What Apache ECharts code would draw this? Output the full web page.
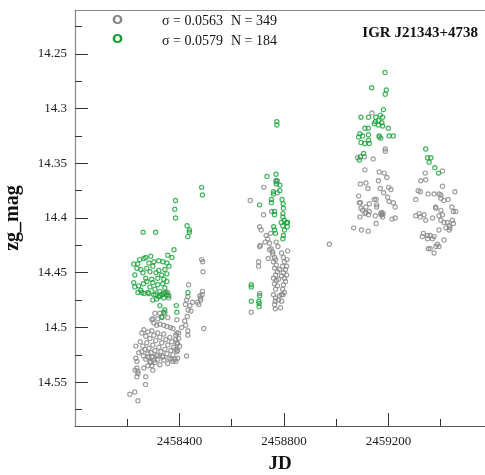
<!DOCTYPE html>
<html>
<head>
<meta charset="utf-8">
<script src="https://cdn.jsdelivr.net/npm/echarts@6/dist/echarts.min.js"></script>
<style>
  html, body { margin: 0; padding: 0; background: #fff; }
  #chart { width: 485px; height: 475px; }
</style>
</head>
<body>
<div id="chart"></div>
<script>
// light curve of IGR J21343+4738, points are [JD, zg mag]
const graySeason1 = [
  [2458485,14.438],[2458489,14.440],[2458490,14.449],[2458435,14.461],[2458488,14.467],[2458432,14.472],[2458481,14.473],
  [2458359,14.473],[2458355,14.468],[2458423,14.479],[2458433,14.484],[2458427,14.475],[2458470,14.477],[2458481,14.475],
  [2458487,14.470],[2458474,14.479],[2458493,14.501],[2458478,14.471],[2458430,14.490],
  [2458306,14.487],[2458325,14.487],[2458298,14.492],[2458317,14.492],[2458332,14.490],[2458344,14.487],[2458355,14.491],
  [2458390,14.493],[2458424,14.498],[2458294,14.493],[2458302,14.496],[2458313,14.498],
  [2458325,14.497],[2458340,14.498],[2458352,14.499],[2458365,14.500],[2458375,14.501],[2458390,14.505],[2458397,14.505],
  [2458432,14.503],[2458432,14.507],
  [2458256,14.505],[2458264,14.502],[2458271,14.508],[2458279,14.504],[2458287,14.510],[2458294,14.503],[2458302,14.507],
  [2458309,14.512],[2458317,14.505],[2458325,14.509],[2458332,14.514],[2458340,14.506],[2458348,14.511],[2458355,14.516],
  [2458363,14.509],[2458371,14.513],[2458378,14.518],[2458386,14.511],[2458393,14.515],
  [2458250,14.513],[2458260,14.517],[2458268,14.520],[2458275,14.514],[2458283,14.519],[2458291,14.523],[2458298,14.516],
  [2458306,14.521],[2458313,14.525],[2458321,14.518],[2458329,14.522],[2458336,14.527],[2458344,14.520],[2458352,14.524],
  [2458360,14.528],[2458367,14.521],[2458375,14.525],[2458383,14.529],[2458390,14.522],
  [2458262,14.526],[2458271,14.529],[2458279,14.524],[2458287,14.531],[2458298,14.527],[2458306,14.532],[2458317,14.529],
  [2458325,14.534],[2458340,14.530],[2458355,14.533],[2458375,14.531],[2458386,14.520],[2458393,14.528],
  [2458233,14.517],[2458244,14.523],[2458256,14.522],[2458233,14.528],[2458237,14.531],[2458279,14.527],[2458294,14.527],
  [2458317,14.526],[2458336,14.526],[2458367,14.529],[2458386,14.531],[2458427,14.526],
  [2458237,14.537],[2458241,14.540],[2458230,14.539],[2458264,14.537],[2458279,14.535],[2458294,14.535],[2458302,14.530],
  [2458290,14.532],[2458298,14.539],[2458241,14.542],[2458237,14.545],[2458271,14.545],[2458270,14.552],
  [2458210,14.561],[2458229,14.559],[2458241,14.567],
  [2458386,14.507],[2458397,14.510],[2458390,14.514],[2458401,14.517],[2458393,14.521],[2458440,14.480],[2458444,14.485],
  [2458450,14.477],[2458408,14.500],[2458420,14.494]
];
const graySeason2 = [
  [2458723,14.372],[2458671,14.384],[2458722,14.397],[2458753,14.394],[2458775,14.366],[2458775,14.377],[2458770,14.367],
  [2458707,14.408],[2458713,14.411],[2458707,14.426],[2458732,14.416],[2458738,14.419],[2458728,14.422],[2458749,14.414],
  [2458745,14.423],[2458770,14.422],[2458777,14.426],[2458751,14.428],[2458757,14.431],
  [2458757,14.433],[2458764,14.436],[2458760,14.440],[2458768,14.438],[2458771,14.443],[2458764,14.446],[2458775,14.449],
  [2458768,14.452],[2458760,14.455],[2458771,14.457],[2458764,14.460],[2458775,14.462],[2458768,14.465],[2458779,14.456],
  [2458783,14.447],
  [2458791,14.432],[2458798,14.436],[2458802,14.440],[2458795,14.444],[2458806,14.447],[2458798,14.450],[2458791,14.453],
  [2458802,14.455],[2458810,14.452],[2458806,14.458],[2458798,14.461],[2458810,14.444],[2458812,14.438],[2458814,14.430],
  [2458795,14.465],[2458802,14.468],[2458791,14.470],[2458783,14.471],
  [2458760,14.470],[2458768,14.473],[2458779,14.475],[2458791,14.476],[2458764,14.479],[2458787,14.482],[2458796,14.470],
  [2458703,14.440],[2458703,14.444],[2458745,14.429],[2458740,14.437],[2458710,14.425],
  [2458707,14.469],[2458767,14.476],[2458767,14.483],[2458675,14.486]
];
const graySeason3 = [
  [2458974,14.424],
  [2459137,14.304],[2459165,14.326],[2459188,14.337],[2459188,14.339],
  [2459082,14.345],[2459108,14.344],[2459142,14.346],
  [2459110,14.356],[2459165,14.358],[2459184,14.359],[2459194,14.363],[2459162,14.366],
  [2459093,14.369],[2459114,14.368],[2459122,14.373],
  [2459169,14.373],[2459182,14.377],[2459201,14.372],[2459210,14.374],
  [2459086,14.380],[2459093,14.386],[2459114,14.390],[2459127,14.387],[2459146,14.383],[2459155,14.388],[2459197,14.381],
  [2459203,14.385],[2459219,14.386],[2459226,14.390],
  [2459091,14.399],[2459114,14.395],[2459124,14.397],[2459127,14.394],[2459150,14.398],[2459171,14.396],[2459175,14.397],
  [2459178,14.399],[2459214,14.401],[2459226,14.400],
  [2459153,14.405],[2459067,14.409],[2459097,14.411],[2459123,14.412],
  [2459089,14.386],[2459095,14.391],[2459101,14.393],[2459110,14.396],[2459153,14.383],[2459155,14.390],[2459173,14.397],
  [2459175,14.395],[2459180,14.396]
];
const graySeason4 = [
  [2459407,14.357],[2459341,14.359],[2459343,14.365],[2459324,14.366],[2459407,14.371],[2459314,14.375],[2459322,14.376],
  [2459352,14.378],[2459375,14.378],[2459394,14.378],[2459401,14.379],[2459413,14.384],[2459429,14.383],[2459455,14.376],
  [2459305,14.383],[2459401,14.382],
  [2459381,14.390],[2459381,14.391],[2459443,14.390],[2459449,14.394],[2459458,14.394],[2459401,14.393],[2459407,14.397],
  [2459305,14.398],[2459318,14.396],[2459322,14.399],[2459337,14.397],[2459343,14.402],[2459369,14.400],[2459394,14.398],
  [2459401,14.402],[2459413,14.404],[2459426,14.404],[2459433,14.407],[2459445,14.402],[2459449,14.405],[2459420,14.409],
  [2459433,14.411],[2459436,14.409],[2459394,14.411],
  [2459334,14.414],[2459330,14.417],[2459350,14.416],[2459360,14.416],[2459350,14.419],[2459369,14.419],[2459375,14.417],
  [2459413,14.420],[2459388,14.424],[2459394,14.426],[2459382,14.426],[2459353,14.428],[2459360,14.428],[2459375,14.432]
];

const greenSeason1 = [
  [2458485,14.372],[2458488,14.379],[2458385,14.384],[2458382,14.392],[2458385,14.400],[2458429,14.407],[2458438,14.411],
  [2458438,14.413],[2458432,14.417],[2458261,14.413],[2458309,14.413],[2458379,14.429],
  [2458248,14.438],[2458264,14.437],[2458271,14.436],[2458290,14.435],[2458355,14.434],[2458371,14.436],[2458321,14.439],
  [2458240,14.442],[2458283,14.441],[2458302,14.440],[2458336,14.440],[2458352,14.441],
  [2458225,14.442],[2458237,14.446],[2458229,14.452],[2458252,14.447],[2458260,14.450],[2458275,14.446],[2458287,14.449],
  [2458298,14.444],[2458310,14.450],[2458321,14.448],[2458332,14.452],[2458344,14.447],[2458352,14.451],[2458360,14.444],
  [2458271,14.455],[2458294,14.456],[2458317,14.455],[2458340,14.456],
  [2458225,14.459],[2458229,14.463],[2458244,14.462],[2458252,14.466],[2458241,14.468],[2458262,14.460],[2458275,14.458],
  [2458287,14.463],[2458298,14.459],[2458306,14.465],[2458317,14.461],[2458325,14.467],[2458336,14.460],[2458344,14.464],
  [2458352,14.458],[2458283,14.469],[2458302,14.470],[2458321,14.472],[2458332,14.470],[2458313,14.474],[2458340,14.473],
  [2458348,14.468],[2458298,14.475],
  [2458256,14.468],[2458264,14.469],[2458279,14.468],[2458309,14.470],[2458325,14.471],[2458340,14.469],[2458352,14.470],
  [2458359,14.471],
  [2458325,14.480],[2458344,14.484],[2458340,14.486],[2458333,14.491],[2458388,14.480],[2458390,14.486],[2458432,14.468]
];
const greenSeason2 = [
  [2458773,14.312],[2458773,14.315],[2458770,14.360],[2458735,14.362],[2458770,14.366],[2458771,14.369],[2458785,14.370],
  [2458784,14.375],[2458760,14.376],[2458760,14.378],[2458752,14.383],[2458752,14.386],[2458707,14.388],[2458793,14.383],
  [2458797,14.387],[2458798,14.391],
  [2458764,14.394],[2458764,14.397],[2458796,14.396],[2458796,14.399],[2458802,14.402],[2458810,14.404],[2458814,14.404],
  [2458813,14.408],[2458796,14.407],[2458790,14.404],[2458761,14.408],[2458764,14.411],[2458768,14.414],[2458796,14.419],
  [2458802,14.411],[2458798,14.416],
  [2458675,14.461],[2458675,14.463],[2458675,14.476],[2458704,14.476],[2458707,14.471],[2458705,14.478],[2458705,14.481]
];
const greenSeason3 = [
  [2459187,14.267],[2459136,14.281],[2459192,14.283],[2459188,14.287],[2459181,14.301],
  [2459169,14.306],[2459178,14.308],[2459152,14.308],[2459124,14.308],[2459095,14.308],[2459150,14.312],[2459162,14.311],
  [2459175,14.313],[2459162,14.315],[2459178,14.316],[2459146,14.314],[2459200,14.318],
  [2459110,14.318],[2459123,14.318],[2459124,14.324],[2459091,14.323],[2459086,14.326],[2459101,14.325],[2459095,14.331],
  [2459110,14.332],[2459124,14.329],[2459127,14.332],
  [2459165,14.325],[2459171,14.327],[2459203,14.325],[2459219,14.325],
  [2459105,14.341],[2459089,14.347],[2459093,14.344]
];
const greenSeason4 = [
  [2459343,14.337],[2459350,14.345],[2459363,14.345],[2459356,14.349],[2459378,14.354],[2459392,14.359]
];

const xMajorTicks = [2458400, 2458800, 2459200];
const xMinorTicks = [2458200, 2458600, 2459000, 2459400];
const yMajorTicks = [14.25, 14.3, 14.35, 14.4, 14.45, 14.5, 14.55];
const yMinorTicks = [14.225, 14.275, 14.325, 14.375, 14.425, 14.475, 14.525, 14.575];

const legendStats = [
  { sigma: 'σ = 0.0563', n: 'N = 349' },
  { sigma: 'σ = 0.0579', n: 'N = 184' }
];

const GRAY = '#878787';
const GREEN = '#14a036';
const SERIF = '"Liberation Serif", serif';

const chart = echarts.init(document.getElementById('chart'));

const xRange = { min: 2458000, max: 2459570 };
const yRange = { min: 14.21, max: 14.59 };

function pointSeries(name, data, color) {
  return {
    name: name,
    type: 'scatter',
    data: data,
    symbol: 'circle',
    symbolSize: 4.2,
    itemStyle: {
      color: 'rgba(0,0,0,0)',
      borderColor: color,
      borderWidth: 1.2,
    },
    xAxisIndex: 0,
    yAxisIndex: 0,
  }
}

chart.setOption({
  animation: false,
  backgroundColor: '#fff',
  textStyle: { fontFamily: SERIF },
  title: {
    text: 'IGR J21343+4738',
    right: 2,
    top: 21,
    textStyle: { fontFamily: SERIF, fontWeight: 'bold', fontSize: 15, color: '#111' },
  },
  grid: { left: 75, right: 0, top: 10, bottom: 49, outerBoundsMode: 'none', containLabel: false },
  xAxis: [{
    type: 'value',
    position: 'bottom',
    min: xRange.min,
    max: xRange.max,
    name: 'JD',
    nameLocation: 'middle',
    nameGap: 29,
    nameTextStyle: { fontFamily: SERIF, fontWeight: 'bold', fontSize: 19, color: '#111' },
    splitLine: { show: false },
    axisLine: { lineStyle: { color: '#555', width: 1.2 } },
    axisTick: { inside: true, length: 13, customValues: xMajorTicks, lineStyle: { color: '#333' } },
    axisLabel: {
      customValues: xMajorTicks,
      margin: 9,
      fontFamily: SERIF,
      fontSize: 13,
      color: '#222',
      formatter: v => String(v),
    },
  }, {
    type: 'value',
    position: 'bottom',
    min: xRange.min,
    max: xRange.max,
    splitLine: { show: false },
    axisLine: { show: false },
    axisTick: { inside: true, length: 7, customValues: xMinorTicks, lineStyle: { color: '#333' } },
    axisLabel: { show: false },
  }, {
    type: 'value',
    position: 'top',
    min: xRange.min,
    max: xRange.max,
    splitLine: { show: false },
    axisLine: { lineStyle: { color: '#888', width: 1.2 } },
    axisTick: { show: false },
    axisLabel: { show: false },
  }],
  yAxis: [{
    type: 'value',
    position: 'left',
    inverse: true,
    min: yRange.min,
    max: yRange.max,
    name: 'zg_mag',
    nameLocation: 'middle',
    nameGap: 52,
    nameTextStyle: { fontFamily: SERIF, fontWeight: 'bold', fontSize: 20, color: '#111' },
    splitLine: { show: false },
    axisLine: { lineStyle: { color: '#888', width: 1.2 } },
    axisTick: { inside: true, length: 13, customValues: yMajorTicks, lineStyle: { color: '#333' } },
    axisLabel: {
      customValues: yMajorTicks,
      margin: 8,
      fontFamily: SERIF,
      fontSize: 13,
      color: '#222',
      formatter: v => String(+v.toFixed(3)),
    },
  }, {
    type: 'value',
    position: 'left',
    inverse: true,
    min: yRange.min,
    max: yRange.max,
    splitLine: { show: false },
    axisLine: { show: false },
    axisTick: { inside: true, length: 7, customValues: yMinorTicks, lineStyle: { color: '#333' } },
    axisLabel: { show: false },
  }],
  graphic: [
    { type: 'text', x: 112, y: 21, style: { text: 'O', fill: GRAY, font: 'bold 13px "DejaVu Sans"', verticalAlign: 'middle' } },
    { type: 'text', x: 112, y: 40, style: { text: 'O', fill: GREEN, font: 'bold 13px "DejaVu Sans"', verticalAlign: 'middle' } },
    { type: 'text', x: 162, y: 21, style: { text: legendStats[0].sigma, fill: '#111', font: '14px "Liberation Serif"', verticalAlign: 'middle' } },
    { type: 'text', x: 231, y: 21, style: { text: legendStats[0].n, fill: '#111', font: '14px "Liberation Serif"', verticalAlign: 'middle' } },
    { type: 'text', x: 162, y: 41, style: { text: legendStats[1].sigma, fill: '#111', font: '14px "Liberation Serif"', verticalAlign: 'middle' } },
    { type: 'text', x: 231, y: 41, style: { text: legendStats[1].n, fill: '#111', font: '14px "Liberation Serif"', verticalAlign: 'middle' } },
  ],
  series: [
    pointSeries('gray', graySeason1.concat(graySeason2, graySeason3, graySeason4), GRAY),
    pointSeries('green', greenSeason1.concat(greenSeason2, greenSeason3, greenSeason4), GREEN),
  ],
})
</script>
</body>
</html>
